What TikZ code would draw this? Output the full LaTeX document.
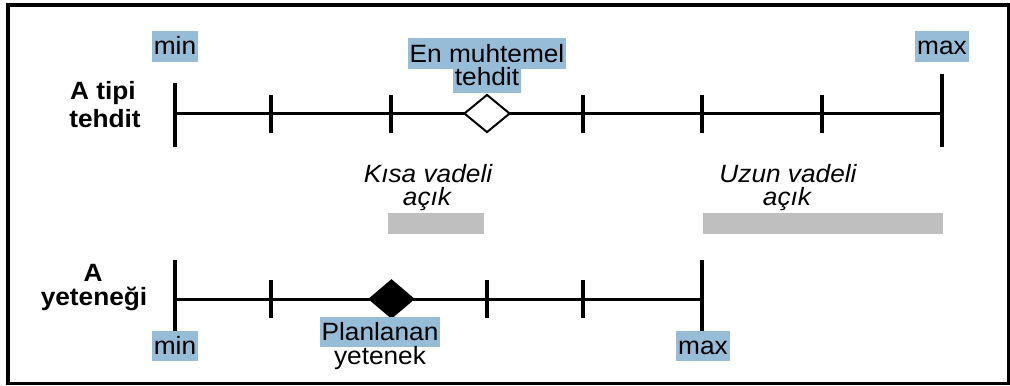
\documentclass[tikz,border=0pt]{standalone}
\usepackage{fontspec}
\setmainfont{Liberation Sans}[FakeStretch=1.05]
\usetikzlibrary{shapes.geometric}
\definecolor{hl}{RGB}{150,188,216}
\definecolor{barg}{RGB}{191,191,191}
\begin{document}
\begin{tikzpicture}[x=0.5pt,y=-0.5pt,
  txt/.style={anchor=base,inner sep=0pt,font=\fontsize{12.5}{15}\selectfont},
  hlbox/.style={txt,fill=hl,inner xsep=0.9pt,text height=11.75pt,text depth=3.5pt},
  lbl/.style={txt,font=\fontsize{12.5}{15}\selectfont\bfseries},
  itl/.style={txt,font=\fontsize{12.5}{15}\selectfont\itshape},
  axisline/.style={line width=1.5pt},
  tickline/.style={line width=2pt},
  gapbar/.style={fill=barg},
  opendiam/.style={diamond,draw,fill=white,line width=1pt,inner sep=0pt,minimum width=23pt,minimum height=19pt},
  fulldiam/.style={diamond,fill=black,inner sep=0pt,minimum width=23.5pt,minimum height=20pt},
]
\useasboundingbox (0,0) rectangle (1010,385);
% frame
\coordinate (fTL) at (8,3);
\coordinate (fTR) at (1010,3);
\coordinate (fBL) at (8,385);
\fill (6,3) rectangle (1010,7);
\fill (6,3) rectangle (10,385);
\fill (1007,3) rectangle (1010,385);
\fill (6,382) rectangle (1010,385);

% top axis
\coordinate (ta0) at (175,113);
\coordinate (ta1) at (942,113);
\draw[axisline] (ta0) -- (ta1);
\draw[tickline] (175,83) -- (175,147);
\draw[tickline] (942,74) -- (942,147);
\foreach \x in {271,391,583,702,822}
  \draw[tickline] (\x,95) -- (\x,133);
\node[opendiam] (thr) at (487,113.5) {};

% bottom axis
\coordinate (ba0) at (175,299);
\coordinate (ba1) at (702,299);
\draw[axisline] (ba0) -- (ba1);
\draw[tickline] (175,260) -- (175,332);
\draw[tickline] (702,260) -- (702,332);
\foreach \x in {271,487,583}
  \draw[tickline] (\x,280) -- (\x,318);
\node[fulldiam] (cap) at (391.5,299) {};

% labels top
\node[hlbox] (tmin) at (175,55) {min};
\node[hlbox] (tmax) at (942,55) {max};
\node[hlbox] (em1) at (487,62) {En muhtemel};
\node[hlbox] (em2) at (487,86) {tehdit};
\node[lbl] (a1) at (103,99) {A tipi};
\node[lbl] (a2) at (105,127) {tehdit};

% gaps
\node[itl] (k1) at (428,182) {Kısa vadeli};
\node[itl] (k2) at (427,205) {açık};
\node[itl] (u1) at (788,182) {Uzun vadeli};
\node[itl] (u2) at (787,205) {açık};
\fill[gapbar] (388,213) rectangle (484,234);
\fill[gapbar] (703,213) rectangle (943,234);

% labels bottom
\node[lbl] (b1) at (93,281) {A};
\node[lbl] (b2) at (94,305) {yeteneği};
\node[hlbox] (bmin) at (175,354) {min};
\node[hlbox] (bmax) at (703,354) {max};
\node[hlbox] (pl) at (380,340) {Planlanan};
\node[txt] (yt) at (380,364) {yetenek};
\end{tikzpicture}
\end{document}
